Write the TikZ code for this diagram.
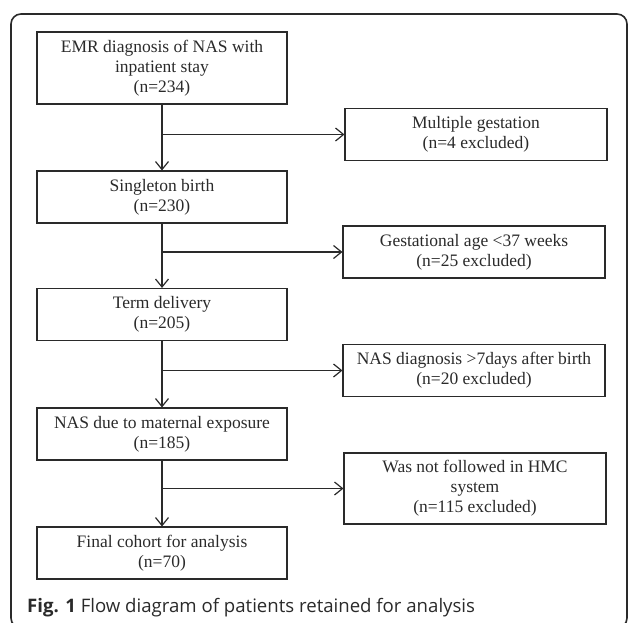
\documentclass[tikz,border=0pt]{standalone}
\usepackage{fontspec}
\setmainfont{Liberation Serif}
\newfontfamily\capfont{Open Sans}
\usetikzlibrary{arrows.meta}
\definecolor{ink}{HTML}{2A2A2A}
\tikzset{
  box/.style={draw=ink, line width=1.1pt, minimum height=52pt, inner sep=0pt, align=center,
    font=\fontsize{17.5}{20}\selectfont, text=ink},
  lbox/.style={box, minimum width=250pt},
  rbox/.style={box, minimum width=262pt},
  arr/.style={draw=ink, line width=1.2pt, -{Straight Barb[length=8pt,width=13pt]}},
  link/.style={draw=ink, line width=1.2pt}
}
\begin{document}
\begin{tikzpicture}[x=1pt,y=-1pt]
\useasboundingbox (0,0) rectangle (628,622);
\draw[ink, line width=1.6pt, rounded corners=10pt] (11,14) rectangle (627,628);
\node[lbox, minimum height=72pt] (b1) at (162,68) {EMR diagnosis of NAS with\\inpatient stay\\(n=234)};
\node[lbox] (b2) at (162,197) {Singleton birth\\(n=230)};
\node[lbox] (b3) at (162,314.5) {Term delivery\\(n=205)};
\node[lbox] (b4) at (162,434) {NAS due to maternal exposure\\(n=185)};
\node[lbox] (b5) at (162,553) {Final cohort for analysis\\(n=70)};
\node[rbox] (r1) at (476,134.5) {Multiple gestation\\(n=4 excluded)};
\node[rbox] (r2) at (474,252) {Gestational age <37 weeks\\(n=25 excluded)};
\node[rbox] (r3) at (474,370.5) {NAS diagnosis >7days after birth\\(n=20 excluded)};
\node[rbox, minimum height=71pt] (r4) at (475,488.5) {Was not followed in HMC\\system\\(n=115 excluded)};
\draw[arr] (b1.south) -- (b2.north);
\draw[arr] (b2.south) -- (b3.north);
\draw[arr] (b3.south) -- (b4.north);
\draw[arr] (b4.south) -- (b5.north);
\draw[arr] (r1.west -| b1.south) -- (r1.west);
\draw[arr] (r2.west -| b2.south) -- (r2.west);
\draw[arr] (r3.west -| b3.south) -- (r3.west);
\draw[arr] (r4.west -| b4.south) -- (r4.west);
\node[anchor=base west, inner sep=0pt, font=\capfont\fontsize{18.6}{22}\selectfont, text=ink] (cap) at (27,612) {\textbf{Fig. 1} Flow diagram of patients retained for analysis};
\end{tikzpicture}
\end{document}
